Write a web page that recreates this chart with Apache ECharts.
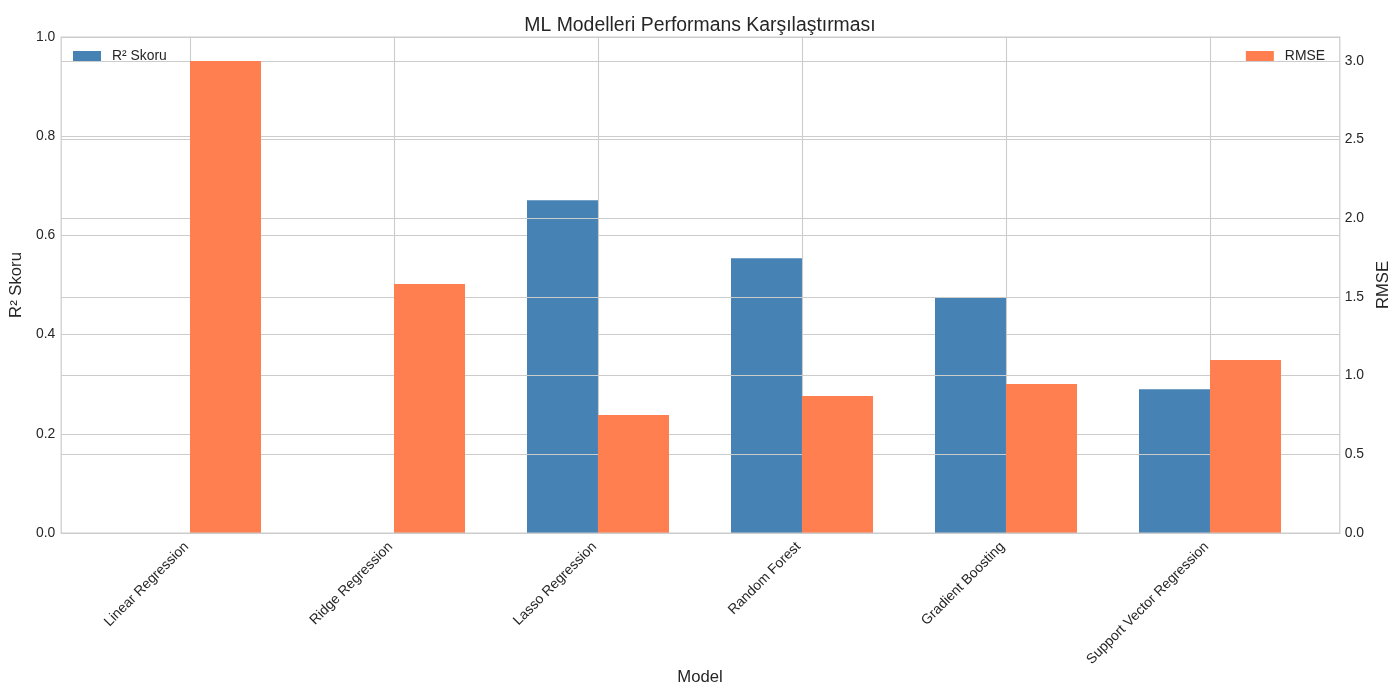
<!DOCTYPE html>
<html>
<head>
<meta charset="utf-8">
<script src="https://cdn.jsdelivr.net/npm/echarts@6/dist/echarts.min.js"></script>
<style>
  html, body { margin: 0; padding: 0; background: #fff; }
  #chart_main { width: 1400px; height: 700px; }
</style>
</head>
<body>
<div id="chart_main"></div>
<script>
// veriler
var models = ['Linear Regression', 'Ridge Regression', 'Lasso Regression', 'Random Forest', 'Gradient Boosting', 'Support Vector Regression'];
var r2Scores = [0, 0, 0.671, 0.554, 0.474, 0.290];
var rmseValues = [3.0, 1.583, 0.750, 0.871, 0.947, 1.100];
var r2Ticks = [0, 0.2, 0.4, 0.6, 0.8, 1.0];
var rmseTicks = [0, 0.5, 1.0, 1.5, 2.0, 2.5, 3.0];

var fontName = '"Liberation Sans", Arial, sans-serif';
var textColor = '#262626';
var gridColor = '#cccccc';

var myChart = echarts.init(document.getElementById('chart_main'));

var option = {
    backgroundColor: '#ffffff',
    textStyle: { fontFamily: fontName, color: textColor },
    title: {
        text: 'ML Modelleri Performans Karşılaştırması',
        left: 'center',
        top: 11,
        textStyle: { fontFamily: fontName, fontSize: 19.4, fontWeight: 'normal', color: textColor }
    },
    legend: [
        {
            data: ['R² Skoru'],
            left: 73,
            top: 49,
            padding: 0,
            itemWidth: 28,
            itemHeight: 10,
            icon: 'rect',
            textStyle: { fontFamily: fontName, fontSize: 13.9, color: textColor, padding: [0, 0, 0, 6] }
        },
        {
            data: ['RMSE'],
            right: 75,
            top: 49,
            padding: 0,
            itemWidth: 28,
            itemHeight: 10,
            icon: 'rect',
            textStyle: { fontFamily: fontName, fontSize: 13.9, color: textColor, padding: [0, 0, 0, 6] }
        }
    ],
    grid: [
        // ana cizim alani (eksenler + cerceve)
        { left: 60, right: 60, top: 37, bottom: 167, show: true, borderColor: gridColor, borderWidth: 1.25, z: 5 },
        // kategori ekseni icin ic alan
        { left: 190, right: 190, top: 37, bottom: 167 }
    ],
    xAxis: [
        { type: 'value', gridIndex: 0, min: 0, max: 1, show: false },
        {
            type: 'category',
            gridIndex: 1,
            data: models,
            boundaryGap: false,
            name: 'Model',
            nameLocation: 'middle',
            nameGap: 136,
            nameMoveOverlap: false,
            nameTextStyle: { fontFamily: fontName, fontSize: 16.7, color: textColor },
            axisLine: { show: false },
            axisTick: { show: false },
            axisLabel: {
                interval: 0, rotate: 45, margin: 8, padding: [0, 5, 0, 0],
                fontFamily: fontName, fontSize: 13.9, color: textColor
            },
            splitLine: { show: true, lineStyle: { color: gridColor, width: 1.1 } },
            z: 3
        }
    ],
    yAxis: [
        {
            type: 'value',
            gridIndex: 0,
            position: 'left',
            min: r2Ticks[0],
            max: r2Ticks[r2Ticks.length - 1],
            interval: 0.2,
            name: 'R² Skoru',
            nameLocation: 'middle',
            nameGap: 26,
            nameRotate: 90,
            nameTextStyle: { fontFamily: fontName, fontSize: 16.7, color: textColor },
            axisLine: { show: false },
            axisTick: { show: false },
            axisLabel: {
                margin: 6, fontFamily: fontName, fontSize: 13.9, color: textColor,
                formatter: function (v) { return v.toFixed(1); }
            },
            splitLine: { show: true, lineStyle: { color: gridColor, width: 1.1 } },
            z: 0
        },
        {
            type: 'value',
            gridIndex: 0,
            position: 'right',
            min: rmseTicks[0],
            max: 3.1525,
            interval: 0.5,
            name: 'RMSE',
            nameLocation: 'middle',
            nameGap: 22,
            nameRotate: 90,
            nameTextStyle: { fontFamily: fontName, fontSize: 16.7, color: textColor },
            axisLine: { show: false },
            axisTick: { show: false },
            axisLabel: {
                margin: 5, fontFamily: fontName, fontSize: 13.9, color: textColor,
                showMaxLabel: false,
                formatter: function (v) { return v.toFixed(1); }
            },
            splitLine: { show: true, lineStyle: { color: gridColor, width: 1.1 } },
            z: 3
        },
        { type: 'value', gridIndex: 1, min: 0, max: 1, show: false },
        { type: 'value', gridIndex: 1, min: 0, max: 3.1525, show: false }
    ],
    series: [
        {
            name: 'R² Skoru',
            type: 'bar',
            xAxisIndex: 1,
            yAxisIndex: 2,
            data: r2Scores,
            barWidth: 71,
            barGap: '0%',
            clip: false,
            itemStyle: { color: '#4682b4' },
            z: 2
        },
        {
            name: 'RMSE',
            type: 'bar',
            xAxisIndex: 1,
            yAxisIndex: 3,
            data: rmseValues,
            barWidth: 71,
            barGap: '0%',
            clip: false,
            itemStyle: { color: '#ff7f50' },
            z: 4
        }
    ]
};

myChart.setOption(option);
</script>
</body>
</html>
